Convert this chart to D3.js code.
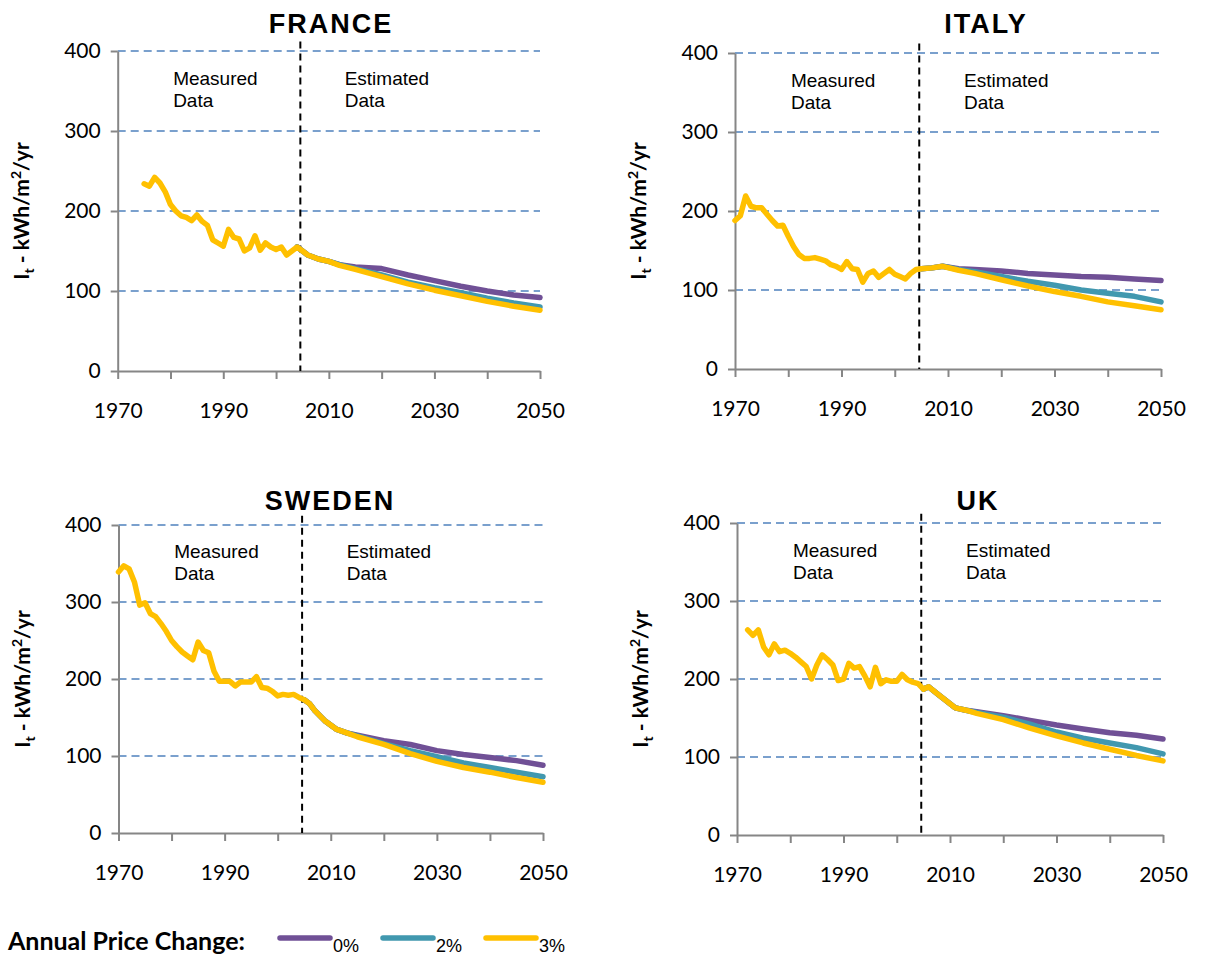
<!DOCTYPE html>
<html lang="en">
<head>
<meta charset="UTF-8" />
<title>Heating intensity projections</title>
<script src="https://d3js.org/d3.v7.min.js"></script>
<style>
  body { margin: 0; background: #fff; }
  svg { display: block; }
  .tick text { font-family: Lato, "Liberation Sans", sans-serif; font-size: 21px; fill: #000; }
  .tick line, .domain { stroke: #868686; stroke-width: 2; }
</style>
</head>
<body>
<svg id="chart" width="1205" height="967"></svg>
<script>
// --- data ---
const yTicks = [0, 100, 200, 300, 400];
const xTicks = [1970, 1980, 1990, 2000, 2010, 2020, 2030, 2040, 2050];
const xLabels = [1970, 1990, 2010, 2030, 2050];
const splitYear = 2004.6;
const scenarios = ["0%", "2%", "3%"];
const scenarioColors = ["#705096", "#4198af", "#ffc000"];

// measured data (one value per year from start year)
const franceStart = 1975;
const franceMeasured = [234, 231, 242, 235, 224, 208, 200, 194, 192, 188, 195, 187, 182, 164, 160,
  156, 177, 167, 165, 150, 154, 169, 151, 160, 155, 152, 155, 145, 150, 155];
const italyStart = 1970;
const italyMeasured = [188, 194, 219, 206, 204, 204, 196, 188, 181, 182, 168, 155, 145, 140, 140,
  141, 139, 137, 132, 130, 126, 136, 127, 126, 110, 121, 124, 116, 121, 126, 120, 117, 114, 121, 126, 127];
const swedenStart = 1970;
const swedenMeasured = [339, 347, 343, 326, 296, 299, 285, 281, 272, 262, 250, 242, 235, 230, 225,
  248, 237, 234, 210, 197, 197, 197, 191, 196, 196, 196, 203, 189, 188, 184, 178, 180, 179, 180, 176, 173];
const ukStart = 1972;
const ukMeasured = [263, 256, 263, 241, 231, 245, 235, 237, 233, 228, 222, 216, 200, 218, 231, 225,
  218, 198, 200, 220, 214, 216, 204, 190, 215, 194, 199, 197, 197, 206, 199, 196, 194, 187];

// estimated data
const franceEstYears = [2004, 2006, 2008, 2010, 2012, 2015, 2020, 2025, 2030, 2035, 2040, 2045, 2050];
const franceEst0 = [155, 145, 140, 137, 133, 130, 128, 120, 113, 106, 100, 95, 92];
const franceEst2 = [155, 145, 140, 137, 133, 128, 120, 111, 104, 98, 91, 85, 80];
const franceEst3 = [155, 145, 140, 137, 132, 127, 118, 109, 101, 94, 87, 81, 76];

const italyEstYears = [2005, 2007, 2009, 2012, 2015, 2020, 2025, 2030, 2035, 2040, 2045, 2050];
const italyEst0 = [127, 128, 130, 127, 126, 124, 121, 119, 117, 116, 114, 112];
const italyEst2 = [127, 128, 130, 126, 123, 117, 111, 106, 100, 96, 92, 85];
const italyEst3 = [127, 128, 130, 125, 121, 113, 105, 98, 92, 85, 80, 75];

const swedenEstYears = [2005, 2006, 2007, 2009, 2011, 2013, 2015, 2020, 2025, 2030, 2035, 2040, 2045, 2050];
const swedenEst0 = [173, 168, 159, 145, 135, 130, 127, 120, 115, 107, 102, 98, 94, 88];
const swedenEst2 = [173, 168, 159, 145, 135, 130, 126, 116, 107, 99, 91, 85, 79, 73];
const swedenEst3 = [173, 168, 159, 145, 135, 130, 125, 115, 103, 93, 85, 79, 72, 66];

const ukEstYears = [2005, 2006, 2008, 2011, 2013, 2015, 2020, 2025, 2030, 2035, 2040, 2045, 2050];
const ukEst0 = [187, 190, 179, 163, 160, 158, 153, 147, 141, 136, 131, 128, 123];
const ukEst2 = [187, 190, 179, 163, 160, 157, 151, 142, 132, 124, 118, 112, 104];
const ukEst3 = [187, 190, 179, 163, 160, 156, 148, 137, 127, 118, 110, 102, 95];

// --- panel layout ---
const panels = [
  { name: "FRANCE", start: franceStart, measured: franceMeasured, estYears: franceEstYears,
    est: [franceEst0, franceEst2, franceEst3], x0: 117.7, x1: 540, yTop: 51, yBot: 371, titleX: 331, titleY: 33 },
  { name: "ITALY", start: italyStart, measured: italyMeasured, estYears: italyEstYears,
    est: [italyEst0, italyEst2, italyEst3], x0: 735, x1: 1161, yTop: 53, yBot: 369, titleX: 986, titleY: 33 },
  { name: "SWEDEN", start: swedenStart, measured: swedenMeasured, estYears: swedenEstYears,
    est: [swedenEst0, swedenEst2, swedenEst3], x0: 118.5, x1: 543, yTop: 525, yBot: 833, titleX: 330, titleY: 510 },
  { name: "UK", start: ukStart, measured: ukMeasured, estYears: ukEstYears,
    est: [ukEst0, ukEst2, ukEst3], x0: 737, x1: 1163, yTop: 523, yBot: 835, titleX: 978, titleY: 510 }
];

const svg = d3.select("#chart");
svg.append("rect").attr("width", 1205).attr("height", 967).attr("fill", "#fff");

panels.forEach(p => {
  const x = d3.scaleLinear().domain([1970, 2050]).range([p.x0, p.x1]);
  const y = d3.scaleLinear().domain([0, 400]).range([p.yBot, p.yTop]);
  const g = svg.append("g");

  // dashed grid
  g.selectAll(".grid").data(yTicks.filter(d => d > 0)).join("line")
    .attr("x1", x(1970)).attr("x2", x(2050))
    .attr("y1", d => y(d)).attr("y2", d => y(d))
    .attr("stroke", "#4f81bd").attr("stroke-width", 1.4).attr("stroke-dasharray", "8,5");

  // axes
  g.append("g").attr("transform", `translate(${x(1970)},0)`)
    .call(d3.axisLeft(y).tickValues(yTicks).tickSize(7).tickSizeOuter(0).tickPadding(10));
  g.append("g").attr("transform", `translate(0,${y(0)})`)
    .call(d3.axisBottom(x).tickValues(xTicks).tickSize(8).tickSizeOuter(0).tickPadding(24)
      .tickFormat(d => xLabels.includes(d) ? d : ""));

  // measured / estimated divider
  g.append("line")
    .attr("x1", x(splitYear)).attr("x2", x(splitYear))
    .attr("y1", y(412)).attr("y2", y(0))
    .attr("stroke", "#000").attr("stroke-width", 2).attr("stroke-dasharray", "7,5");

  // annotations
  [["Measured", "Data", 1980.5], ["Estimated", "Data", 2013]].forEach(([a, b, yr]) => {
    const t = g.append("text").attr("x", x(yr)).attr("y", y(357))
      .attr("font-family", "'Liberation Sans', Arial, sans-serif").attr("font-size", 19);
    t.append("tspan").text(a);
    t.append("tspan").attr("x", x(yr)).attr("dy", 22).text(b);
  });

  // series
  const line = d3.line().x(d => x(d[0])).y(d => y(d[1])).curve(d3.curveLinear);
  const measuredPts = p.measured.map((v, i) => [p.start + i, v]);
  p.est.forEach((vals, k) => {
    let pts = p.estYears.map((yr, i) => [yr, vals[i]]);
    if (k === 2) pts = measuredPts.filter(d => d[0] < p.estYears[0]).concat(pts);
    g.append("path").datum(pts).attr("d", line)
      .attr("fill", "none").attr("stroke", scenarioColors[k]).attr("stroke-width", 5.5)
      .attr("stroke-linejoin", "round").attr("stroke-linecap", "round");
  });

  // title
  g.append("text").attr("x", p.titleX).attr("y", p.titleY).attr("text-anchor", "middle")
    .attr("font-family", "'Liberation Sans', Arial, sans-serif").attr("font-weight", "bold")
    .attr("font-size", 27).attr("letter-spacing", 2).text(p.name);

  // y title
  const yt = g.append("text")
    .attr("transform", `translate(${p.x0 - 89},${(p.yTop + p.yBot) / 2}) rotate(-90)`)
    .attr("text-anchor", "middle")
    .attr("font-family", "Lato, 'Liberation Sans', sans-serif").attr("font-weight", "bold").attr("font-size", 21);
  yt.append("tspan").text("I");
  yt.append("tspan").attr("dy", 5).attr("font-size", 14).text("t");
  yt.append("tspan").attr("dy", -5).text(" - kWh/m");
  yt.append("tspan").attr("dy", -8).attr("font-size", 14).text("2");
  yt.append("tspan").attr("dy", 8).text("/yr");
});

// legend
const legend = svg.append("g");
legend.append("text").attr("x", 245).attr("y", 950).attr("text-anchor", "end")
  .attr("font-family", "Lato, 'Liberation Sans', sans-serif").attr("font-weight", "bold").attr("font-size", 25)
  .text("Annual Price Change:");
scenarios.forEach((s, i) => {
  const lx = 280 + i * 103;
  legend.append("line").attr("x1", lx).attr("x2", lx + 50).attr("y1", 938).attr("y2", 938)
    .attr("stroke", scenarioColors[i]).attr("stroke-width", 5.5).attr("stroke-linecap", "round");
  legend.append("text").attr("x", lx + 53).attr("y", 952)
    .attr("font-family", "'Liberation Sans', Arial, sans-serif").attr("font-size", 18).text(s);
});
</script>
</body>
</html>
